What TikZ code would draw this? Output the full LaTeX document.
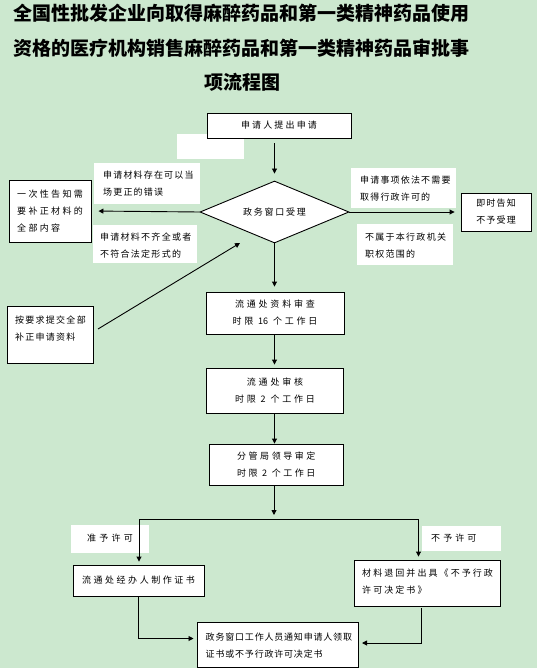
\documentclass[tikz,border=0pt]{standalone}
\usepackage{fontspec}
\usetikzlibrary{shapes.geometric,arrows.meta,calc}
\newfontfamily\cjk{Noto Sans CJK SC}
\newcommand\nosp[1]{{\addfontfeature{LetterSpace=0}#1}}
\definecolor{bg}{RGB}{204,232,207}
\begin{document}
\begin{tikzpicture}[x=1pt,y=-1pt,
  sm/.style={font=\cjk\fontsize{9}{17}\selectfont\addfontfeature{LetterSpace=#1}},
  box/.style={draw=black,line width=0.9pt,fill=white,inner sep=0pt,align=center},
  lab/.style={fill=white,inner sep=0pt},
  txt/.style={inner sep=0pt,align=left,anchor=west},
  ttl/.style={inner sep=0pt,font=\cjk\bfseries\fontsize{19}{22}\selectfont},
  arr/.style={draw=black,line width=0.9pt,-{Triangle[length=5pt,width=5pt]}},
  ln/.style={draw=black,line width=0.9pt}
]
\fill[bg] (0,0) rectangle (537,668);
\useasboundingbox (0,0) rectangle (537,668);

% title
\node[ttl,anchor=west] (ti1) at (13,13.5) {全国性批发企业向取得麻醉药品和第一类精神药品使用};
\node[ttl,anchor=west] (ti2) at (13,48) {资格的医疗机构销售麻醉药品和第一类精神药品审批事};
\node[ttl] (ti3) at (242.5,82) {项流程图};

% blank white patch
\node[lab,minimum width=67pt,minimum height=25pt] (blank) at (210.5,146.5) {};
% apply box
\node[box,sm=24,minimum width=144pt,minimum height=25pt] (apply) at (279,125.5) {申请人提出申请};

% labels left
\node[lab,minimum width=106pt,minimum height=41pt] (l1) at (147,183.5) {};
\node[txt,sm=13] (l1t) at (103,184) {申请材料存在可以当\\场更正的错误};
\node[lab,minimum width=104pt,minimum height=38pt] (l2) at (145,244) {};
\node[txt,sm=14] (l2t) at (100,245.5) {申请材料不齐全或者\\不符合法定形式的};

% labels right
\node[lab,minimum width=105pt,minimum height=40pt] (r1) at (403.5,188) {};
\node[txt,sm=13] (r1t) at (360,189) {申请事项依法不需要\\取得行政许可的};
\node[lab,minimum width=96pt,minimum height=41pt] (r2) at (405,244.5) {};
\node[txt,sm=14] (r2t) at (365,245.5) {不属于本行政机关\\职权范围的};

% diamond
\node[draw=black,line width=0.9pt,fill=white,diamond,aspect=2.4,minimum width=149pt,minimum height=62pt,inner sep=0pt,sm=20] (win) at (274.5,212) {政务窗口受理};

% side boxes
\node[box,minimum width=82pt,minimum height=62pt] (notify) at (50,211) {};
\node[txt,sm=26] (notifyt) at (17,211) {一次性告知需\\要补正材料的\\全部内容};
\node[box,sm=13,minimum width=70pt,minimum height=38pt] (reject) at (496,212) {即时告知\\不予受理};
\node[box,minimum width=85.5pt,minimum height=57pt] (resub) at (50.25,334.5) {};
\node[txt,sm=14] (resubt) at (15,328.5) {按要求提交全部\\补正申请资料};

% process boxes
\node[box,sm=31,minimum width=138pt,minimum height=42pt] (p1) at (275,313) {流通处资料审查\\时限 \nosp{16} 个工作日};
\node[box,sm=31,minimum width=137pt,minimum height=45pt] (p2) at (275,390.5) {流通处审核\\时限 \nosp{2} 个工作日};
\node[box,sm=28,minimum width=134.5pt,minimum height=41pt] (p3) at (276.25,464.5) {分管局领导审定\\时限 \nosp{2} 个工作日};

% branch labels
\node[lab,minimum width=78pt,minimum height=27.5pt] (yes) at (110,539) {};
\node[txt,sm=36] (yest) at (87,538.5) {准予许可};
\node[lab,minimum width=78.7pt,minimum height=25.5pt] (no) at (461.35,538.25) {};
\node[txt,sm=34] (not) at (431,538.5) {不予许可};

% result boxes
\node[box,sm=28,minimum width=131pt,minimum height=31pt] (ba) at (138.5,580.5) {流通处经办人制作证书};
\node[box,minimum width=146.2pt,minimum height=46pt] (bb) at (427.6,583) {};
\node[txt,sm=23] (bbt) at (362,582) {材料退回并出具《不予行政\\许可决定书》};
\node[box,minimum width=161pt,minimum height=45.6pt] (fin) at (277.5,644.8) {};
\node[txt,sm=9] (fint) at (205.5,645.5) {政务窗口工作人员通知申请人领取\\证书或不予行政许可决定书};

% coordinates
\coordinate (rs) at (98,329);
\coordinate (rt) at (240,243);
\coordinate (sp) at (274,519);
\coordinate (spl) at (139,519);
\coordinate (spr) at (418.5,519);
\coordinate (fl) at (193.5,638.5);
\coordinate (fr) at (362,643);
\coordinate (bbs) at (421,608);

% connectors
\draw[arr,shorten <=5pt,shorten >=7pt] (win.north |- apply.south) -- (win.north);
\draw[arr,shorten >=7pt] (win.west) -- (notify.east);
\draw[arr,shorten >=6pt] (win.east) -- (reject.west);
\draw[arr] (rs) -- (rt);
\draw[arr,shorten >=5pt] (win.south) -- (win.south |- p1.north);
\draw[arr,shorten >=3pt] (p1.south -| win.south) -- (p2.north -| win.south);
\draw[arr] (p2.south -| win.south) -- (p3.north -| win.south);
\draw[arr,shorten >=4pt] (p3.south -| sp) -- (sp);
\draw[ln] (spl) -- (spr);
\draw[arr,shorten >=3pt] (spl) -- (spl |- ba.north);
\draw[arr,shorten >=3pt] (spr) -- (spr |- bb.north);
\draw[arr] (ba.south) |- (fl);
\draw[arr] (bbs) |- (fr);
\end{tikzpicture}
\end{document}
